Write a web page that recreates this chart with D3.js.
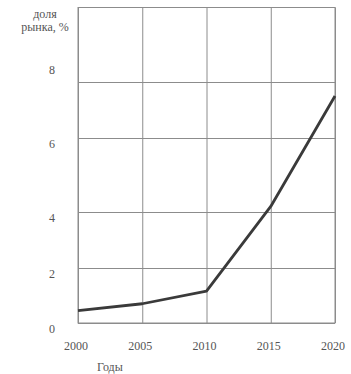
<!DOCTYPE html>
<html>
<head>
<meta charset="utf-8">
<script src="https://cdn.jsdelivr.net/npm/d3@7"></script>
<style>
  body { margin: 0; background: #fff; }
  text { font-family: "Liberation Serif", "Times New Roman", serif; fill: #555; }
</style>
</head>
<body>
<svg id="chart"></svg>
<script>
const years = [2000, 2005, 2010, 2015, 2020];
const share = [0.45, 0.7, 1.16, 4.15, 7.5];
const yTicks = [0, 2, 4, 6, 8];

const W = 351, H = 374;
const margin = {top: 7.5, right: 16, bottom: 51, left: 78};
const width = W - margin.left - margin.right,
    height = H - margin.top - margin.bottom;

const svg = d3.select("#chart")
    .attr("width", W)
    .attr("height", H);

const x = d3.scaleLinear().domain([2000, 2020]).range([margin.left, margin.left + width]);
// the printed grid is uneven, so the scale follows the drawn gridlines
const y = d3.scaleLinear().domain(yTicks).range([323, 268, 212, 138, 82]);

// grid
svg.append("g")
    .attr("transform", `translate(0,${margin.top + height})`)
    .call(d3.axisBottom(x).tickValues(years).tickSize(-height).tickFormat(""))
    .call(g => g.select(".domain").remove())
    .selectAll("line").attr("stroke", "#8c8c8c");

svg.append("g")
    .attr("transform", `translate(${margin.left},0)`)
    .call(d3.axisLeft(y).tickValues(yTicks).tickSize(-width).tickFormat(""))
    .call(g => g.select(".domain").remove())
    .selectAll("line").attr("stroke", "#8c8c8c");

svg.append("rect")
    .attr("x", margin.left)
    .attr("y", margin.top)
    .attr("width", width)
    .attr("height", height)
    .attr("fill", "none")
    .attr("stroke", "#8c8c8c");

// tick labels
svg.selectAll(".xlab")
    .data(years)
    .enter().append("text")
        .attr("class", "xlab")
        .attr("x", d => x(d) - 2)
        .attr("y", 350)
        .attr("text-anchor", "middle")
        .style("font-size", "12px")
        .text(d => d);

svg.selectAll(".ylab")
    .data(yTicks)
    .enter().append("text")
        .attr("class", "ylab")
        .attr("x", 52)
        .attr("y", d => d === 8 ? y(d) - 8 : y(d) + 10)
        .attr("text-anchor", "middle")
        .style("font-size", "12px")
        .text(d => d);

// line
const line = d3.line()
    .x((d, i) => x(years[i]))
    .y(d => y(d));

svg.append("path")
    .datum(share)
    .attr("fill", "none")
    .attr("stroke", "#3a3a3a")
    .attr("stroke-width", 2.8)
    .attr("stroke-linejoin", "round")
    .attr("d", line);

// axis titles
svg.append("text")
    .attr("x", 45)
    .attr("y", 18)
    .attr("text-anchor", "middle")
    .style("font-size", "12px")
    .text("доля");

svg.append("text")
    .attr("x", 45)
    .attr("y", 31)
    .attr("text-anchor", "middle")
    .style("font-size", "12px")
    .text("рынка, %");

svg.append("text")
    .attr("x", 97)
    .attr("y", 371)
    .style("font-size", "12px")
    .text("Годы");
</script>
</body>
</html>
